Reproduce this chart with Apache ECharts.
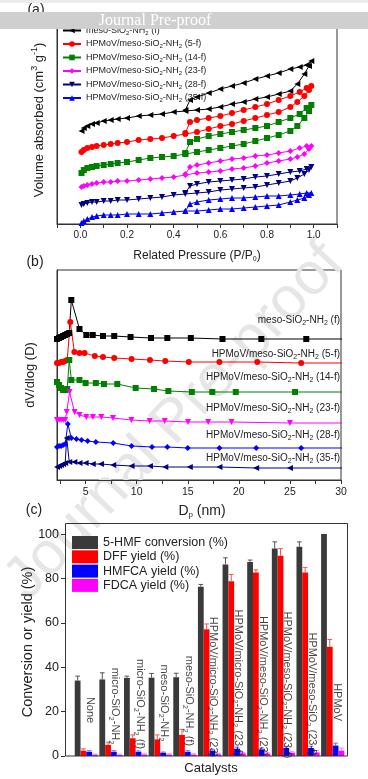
<!DOCTYPE html>
<html><head><meta charset="utf-8">
<script src="https://cdn.jsdelivr.net/npm/echarts@6/dist/echarts.min.js"></script>
<style>html,body{margin:0;padding:0;background:#fff;}#c{width:368px;height:779px;}</style>
</head><body><div id="c"></div>
<script>
// ---------- Panel (a): N2 isotherms (relative heights, stacked offsets) ----------
const isoNames = ['meso-SiO2-NH2 (f)','HPMoV/meso-SiO2-NH2 (5-f)','HPMoV/meso-SiO2-NH2 (14-f)','HPMoV/meso-SiO2-NH2 (23-f)','HPMoV/meso-SiO2-NH2 (28-f)','HPMoV/meso-SiO2-NH2 (35-f)'];
const adsP = [0.005,0.015,0.03,0.05,0.07,0.1,0.13,0.16,0.2,0.25,0.3,0.35,0.4,0.45,0.5,0.55,0.6,0.65,0.7,0.75,0.8,0.85,0.9,0.93,0.96,0.98,0.99];
const desP = [0.97,0.94,0.9,0.85,0.8,0.75,0.7,0.65,0.6,0.55,0.5,0.47,0.45];
const adsBlack = [93,96,98,100,101,103,104,105,106,108,109,110,112,113,114,115,117,120,122,125,127,130,133,140,150,158,163];
const desBlack = [159,157,155,151,148,145,141,138,135,131,127,124,114];
const adsRed = [72,74,76,77,78,79,80,81,82,84,85,86,88,90,92,95,98,100,103,106,109,112,117,122,128,134,138];
const desRed = [136,132,128,124,120,117,114,111,108,106,104,102,91];
const adsGreen = [51,54,56,57,58,59,60,61,62,64,66,67,68,70,72,74,76,78,80,83,86,89,93,98,106,113,119];
const desGreen = [116,110,106,102,98,96,94,92,90,88,85,82,71];
const adsMagenta = [37,38,39,40,41,42,42,43,43,44,45,46,47,49,51,52,53,55,56,58,61,63,65,67,70,75,78];
const desMagenta = [78,76,73,71,69,68,66,65,63,61,59,57,50];
const adsNavy = [19,20,21,22,22,23,23,24,24,25,26,27,29,30,31,32,34,35,36,37,39,41,43,46,50,54,57];
const desNavy = [55,53,52,50,48,47,45,44,43,42,40,38,31];
const adsBlue = [1,3,5,7,8,9,9,9,10,10,10,11,12,13,13,14,15,15,16,17,18,19,22,24,26,29,31];
const desBlue = [31,30,29,28,28,27,26,26,25,24,22,20,13];

// ---------- Panel (b): pore size distribution (relative heights) ----------
const psdBlackD = [2.2,2.4,2.6,2.8,3.0,3.2,3.4,3.6,4.4,5.07,5.7,6.7,7.8,9.4,11.4,13.0,15.3,18.4,22.2,26.6,31];
const psdBlackV = [141,142,143,144,145,146,147,180,151,145,145,144,144,143,142,142,142,141,141,141,141];
const psdRedD = [2.2,2.4,2.6,2.8,3.0,3.2,3.5,3.9,4.4,4.9,5.9,6.7,7.8,9.5,11.3,12.8,15.1,18.1,21.8,26.1,31];
const psdRedV = [117,117,118,118,119,120,158,128,127,127,124,123,122,121,120,119,118,118,118,117,117];
const psdGreenD = [2.2,2.4,2.6,2.8,3.0,3.2,3.4,3.6,4.4,5.0,6.0,6.8,8.1,9.9,11.7,13.1,15.4,17.4,19.7,25.5,31];
const psdGreenV = [98,95,92,90,90,91,120,100,100,97,97,96,96,92,91,89,88,88,88,88,88];
const psdMagentaD = [2.2,2.4,2.6,2.8,3.0,3.15,3.43,3.92,4.41,5.07,5.72,6.54,7.68,9.48,11.27,12.75,15.03,17.0,19.28,25.0,31];
const psdMagentaV = [60,60,60,60,60,68,88,68,65,63,63,63,62,60,59,59,58,58,58,57,57];
const psdBlueD = [2.2,2.4,2.6,2.8,3.0,3.26,3.6,4.1,4.6,5.2,6.0,7.7,9.5,11.5,13.0,15.0,18.1,21.7,26.1,31];
const psdBlueV = [33,34,34,35,36,56,42,41,40,39,38,37,34,33,33,32,32,32,32,32];
const psdNavyD = [2.2,2.4,2.6,2.8,3.0,3.15,3.4,3.9,4.4,5.0,5.7,6.5,7.7,9.5,11.3,12.8,15.2,18.1,21.7,25.0,31];
const psdNavyV = [13,14,15,16,17,42,18,18,17,17,16,16,15,14,14,13,13,13,12,12,12];
const psdLabels = ['meso-SiO2-NH2 (f)','HPMoV/meso-SiO2-NH2 (5-f)','HPMoV/meso-SiO2-NH2 (14-f)','HPMoV/meso-SiO2-NH2 (23-f)','HPMoV/meso-SiO2-NH2 (28-f)','HPMoV/meso-SiO2-NH2 (35-f)'];
const dTicks = [2.5,5,7.5,10,12.5,15,17.5,20,22.5,25,27.5,30];
const dLabels = [5,10,15,20,25,30];

// ---------- Panel (c): catalytic results ----------
const catalysts = ['None','micro-SiO2-NH2','micro-SiO2-NH2 (f)','meso-SiO2-NH2','meso-SiO2-NH2 (f)','HPMoV/micro-SiO2-NH2 (23)','HPMoV/micro-SiO2-NH2 (23-f)','HPMoV/meso-SiO2-NH2 (23)','HPMoV/meso-SiO2-NH2 (23-f)','HPMoV/meso-SiO2 (23-f)','HPMoV'];
const barNames = ['5-HMF conversion (%)','DFF yield (%)','HMFCA yield (%)','FDCA yield (%)'];
const hmfConv = [34.0,34.5,35.2,35.3,35.5,76.3,86.3,87.4,93.5,94.3,100];
const hmfErr  = [2.0,3.0,0.8,1.9,1.8,1.0,3.0,0.9,3.0,2.2,0];
const dffYield = [2.4,5.0,8.0,7.5,9.5,57.1,78.8,82.7,90.2,82.7,49.2];
const dffErr   = [0.8,1.2,1.5,2.0,2.5,2.4,3.0,1.2,3.3,2.3,3.3];
const hmfcaYield = [1.9,1.9,1.9,1.5,1.9,2.4,3.3,3.0,3.6,3.6,4.7];
const hmfcaErr   = [0.5,0.5,0.4,0.3,0.5,0.6,0.7,0.6,0.8,0.8,1.1];
const fdcaYield = [0.6,0.5,0.7,0.7,0.7,0.8,1.2,1.1,1.5,1.6,2.4];
const fdcaErr   = [0.3,0.3,0.3,0.3,0.3,0.4,0.4,0.4,0.6,0.9,1.2];
const labelCenter = [20.7,22.5,23.4,23.9,24.8,31.1,32.9,31.5,32.0,27.9,24.3];

// ---------- build ----------
const FONT = '"Liberation Sans", Arial, sans-serif';
function fmt(name){ return name.replace(/SiO2/g,'SiO{s|2}').replace(/NH2/g,'NH{s|2}'); }
function subRich(fs, color){ return { s:{fontSize:fs, fontFamily:FONT, color:color||'#222', padding:[Math.round(fs*0.9),0,0,0]} }; }

const isoColors = ['#000000','#ff0000','#008000','#ff00ff','#000080','#0000ff'];
const isoSymbols = ['triangle','circle','rect','diamond','triangle','triangle'];
const isoRot = [90,0,0,0,180,0];
const isoAds = [adsBlack,adsRed,adsGreen,adsMagenta,adsNavy,adsBlue];
const isoDes = [desBlack,desRed,desGreen,desMagenta,desNavy,desBlue];
const psdD = [psdBlackD,psdRedD,psdGreenD,psdMagentaD,psdBlueD,psdNavyD];
const psdV = [psdBlackV,psdRedV,psdGreenV,psdMagentaV,psdBlueV,psdNavyV];
const psdColors = ['#000000','#ff0000','#008000','#ff00ff','#0000ff','#000080'];
const psdSymbols = ['rect','circle','rect','triangle','diamond','triangle'];
const psdRot = [0,0,0,180,0,90];

const series = [];
isoNames.forEach((n,k)=>{
  const data = adsP.map((p,i)=>[p, isoAds[k][i]]).concat(desP.map((p,i)=>[p, isoDes[k][i]]));
  series.push({name:n, type:'line', xAxisIndex:0, yAxisIndex:0, data, symbol:isoSymbols[k], symbolRotate:isoRot[k], symbolSize:6,
    lineStyle:{width:1, color:isoColors[k]}, itemStyle:{color:isoColors[k]}, animation:false, z:3});
});
psdD.forEach((ds,k)=>{
  series.push({name:'psd'+k, type:'line', xAxisIndex:1, yAxisIndex:1, data: ds.map((d,i)=>[d, psdV[k][i]]), symbol:psdSymbols[k], symbolRotate:psdRot[k], symbolSize:6,
    lineStyle:{width:1, color:psdColors[k]}, itemStyle:{color:psdColors[k]}, animation:false, z:3});
});
const barVals = [hmfConv,dffYield,hmfcaYield,fdcaYield];
const barErrs = [hmfErr,dffErr,hmfcaErr,fdcaErr];
const barColors = ['#3a3a3a','#ff0000','#0000ff','#ff00ff'];
const errColors = ['#555555','#ff5050','#6a6aff','#ff80ff'];
const CATGAP = 0.06;
barVals.forEach((vals,k)=>{
  series.push({name:barNames[k], type:'bar', xAxisIndex:2, yAxisIndex:2, data:vals, barGap:'0%', barCategoryGap:(CATGAP*100)+'%',
    itemStyle:{color:barColors[k]}, animation:false, z:2});
});
barVals.forEach((vals,k)=>{
  series.push({name:'err'+k, type:'custom', xAxisIndex:2, yAxisIndex:2, animation:false, z:4,
    data: vals.map((v,i)=>[i, v, barErrs[k][i]]), encode:{x:0,y:1},
    renderItem:function(params, api){
      const ci = api.value(0), v = api.value(1), e = api.value(2);
      if (!e) return null;
      const band = api.size([1,0])[0];
      const bw = band*(1-CATGAP)/4;
      const x = api.coord([ci, v])[0] + (k-1.5)*bw;
      const y0 = api.coord([ci, v])[1], y1 = api.coord([ci, v+e])[1];
      const cw = bw*0.4;
      return {type:'group', children:[
        {type:'line', shape:{x1:x,y1:y0,x2:x,y2:y1}, style:{stroke:errColors[k], lineWidth:1}},
        {type:'line', shape:{x1:x-cw,y1:y1,x2:x+cw,y2:y1}, style:{stroke:errColors[k], lineWidth:1}}
      ]};
    }});
});
series.push({name:'catLabels', type:'scatter', xAxisIndex:2, yAxisIndex:2, symbolSize:1, itemStyle:{color:'rgba(0,0,0,0)'}, animation:false, z:6,
  data: labelCenter.map((v,i)=>[i, v]),
  label:{show:true, position:'inside', rotate:-90, offset:[0,-4], fontSize:11, fontFamily:FONT, color:'#111',
    formatter:(p)=>fmt(catalysts[p.dataIndex]), rich:subRich(7.5,'#111')}});

const axisTxt = {fontFamily:FONT, color:'#222'};
const option = {
  backgroundColor:'#fff',
  animation:false,
  grid:[
    {left:57, top:14, width:280, height:210, show:true, borderColor:'#333', borderWidth:1},
    {left:57, top:270, width:284, height:210, show:true, borderColor:'#333', borderWidth:1},
    {left:74, top:523, width:271, height:233, show:false}
  ],
  xAxis:[
    {gridIndex:0, type:'value', min:-0.1, max:1.1, interval:0.1, axisLine:{onZero:false, lineStyle:{color:'#333'}}, splitLine:{show:false},
      axisTick:{inside:false, length:4, lineStyle:{color:'#333'}},
      axisLabel:{fontSize:10, margin:6, ...axisTxt, formatter:(v)=>{const r=Math.round(v*10); return (r>=0 && r<=10 && r%2===0)? (r/10).toFixed(1):'';}}},
    {gridIndex:1, type:'value', min:2.2, max:30, axisLine:{onZero:false, lineStyle:{color:'#333'}}, splitLine:{show:false},
      axisTick:{inside:false, length:4, customValues:dTicks, lineStyle:{color:'#333'}},
      axisLabel:{fontSize:10.5, margin:7, customValues:dLabels, ...axisTxt}},
    {gridIndex:2, type:'category', data:catalysts, axisLine:{show:false}, axisTick:{show:false}, axisLabel:{show:false}}
  ],
  yAxis:[
    {gridIndex:0, type:'value', min:0, max:210, axisLine:{show:true, onZero:false, lineStyle:{color:'#333'}}, axisTick:{show:false}, axisLabel:{show:false}, splitLine:{show:false}},
    {gridIndex:1, type:'value', min:0, max:210, axisLine:{show:true, onZero:false, lineStyle:{color:'#333'}}, axisTick:{show:false}, axisLabel:{show:false}, splitLine:{show:false}},
    {gridIndex:2, type:'value', min:0, max:105, interval:20, offset:9, axisLine:{show:false, onZero:false}, splitLine:{show:false},
      axisTick:{show:true, inside:false, length:4, lineStyle:{color:'#333'}}, axisLabel:{fontSize:12.5, margin:6, ...axisTxt}}
  ],
  legend:[
    {data:isoNames, orient:'vertical', left:62, top:26, itemWidth:18, itemHeight:7, itemGap:3.5, padding:0, selectedMode:false,
      formatter:fmt, textStyle:{fontSize:9, fontFamily:FONT, color:'#222', rich:subRich(6)}},
    {data:barNames, orient:'vertical', left:72, top:536, itemWidth:26, itemHeight:13, itemGap:1.3, padding:0, selectedMode:false, icon:'rect',
      textStyle:{fontSize:12.5, fontFamily:FONT, color:'#222'}}
  ],
  series,
  graphic:[
    {type:'text', x:175, y:422, rotation:0.815, z:0, silent:true,
      style:{text:'Journal Pre-proof', fontSize:60, fontFamily:FONT, fill:'#e6e6e6', textAlign:'center', textVerticalAlign:'middle'}},
    {type:'text', x:36, y:10, z:50, style:{text:'(a)', fontSize:14, fontFamily:FONT, fill:'#222', textAlign:'center', textVerticalAlign:'middle'}},
    {type:'rect', shape:{x:0,y:0,width:368,height:3}, z:99, style:{fill:'#ececec'}},
    {type:'rect', shape:{x:0,y:12,width:368,height:17}, z:100, style:{fill:'#cfcfcf'}},
    {type:'text', x:155, y:21, z:101, style:{text:'Journal Pre-proof', fontSize:16, fontFamily:'"Liberation Serif", "DejaVu Serif", serif', fill:'#ffffff', textAlign:'center', textVerticalAlign:'middle'}},
    {type:'text', x:39, y:120, rotation:Math.PI/2, z:50, style:{text:'Volume absorbed (cm{u|3} g{u|-1})', fontSize:13, fontFamily:FONT, fill:'#222', textAlign:'center', textVerticalAlign:'middle',
      rich:{u:{fontSize:9, fontFamily:FONT, fill:'#222', padding:[0,0,9,0]}}}},
    {type:'text', x:197, y:256, z:50, style:{text:'Related Pressure (P/P{s|0})', fontSize:12, fontFamily:FONT, fill:'#222', textAlign:'center', textVerticalAlign:'middle',
      rich:{s:{fontSize:7, fontFamily:FONT, fill:'#222', padding:[6,0,0,0]}}}},
    {type:'text', x:35, y:262, z:50, style:{text:'(b)', fontSize:14, fontFamily:FONT, fill:'#222', textAlign:'center', textVerticalAlign:'middle'}},
    ...psdLabels.map((t,i)=>({type:'text', x:340, y:[320,354,377,408,435,458][i], z:50,
      style:{text:fmt(t), fontSize:10, fontFamily:FONT, fill:'#222', textAlign:'right', textVerticalAlign:'middle',
        rich:{s:{fontSize:7, fontFamily:FONT, fill:'#222', padding:[6,0,0,0]}}}})),
    {type:'text', x:30, y:375, rotation:Math.PI/2, z:50, style:{text:'dV/dlog (D)', fontSize:13, fontFamily:FONT, fill:'#222', textAlign:'center', textVerticalAlign:'middle'}},
    {type:'text', x:202, y:511, z:50, style:{text:'D{s|p} (nm)', fontSize:14, fontFamily:FONT, fill:'#222', textAlign:'center', textVerticalAlign:'middle',
      rich:{s:{fontSize:8, fontFamily:FONT, fill:'#222', padding:[8,0,0,0]}}}},
    {type:'text', x:34, y:510, z:50, style:{text:'(c)', fontSize:14, fontFamily:FONT, fill:'#222', textAlign:'center', textVerticalAlign:'middle'}},
    {type:'rect', shape:{x:65.5,y:523.5,width:282,height:232.5}, z:60, silent:true, style:{fill:'none', stroke:'#333', lineWidth:1}},
    {type:'text', x:28, y:642, rotation:Math.PI/2, z:50, style:{text:'Conversion or yield (%)', fontSize:14.5, fontFamily:FONT, fill:'#222', textAlign:'center', textVerticalAlign:'middle'}},
    {type:'text', x:211, y:768, z:50, style:{text:'Catalysts', fontSize:13, fontFamily:FONT, fill:'#222', textAlign:'center', textVerticalAlign:'middle'}}
  ]
};
const chart = echarts.init(document.getElementById('c'));
chart.setOption(option);
</script>
</body></html>
